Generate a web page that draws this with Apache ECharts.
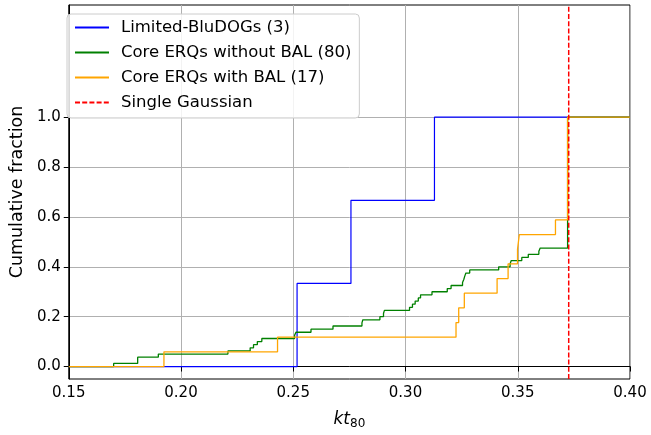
<!DOCTYPE html>
<html><head><meta charset="utf-8">
<script src="https://cdn.jsdelivr.net/npm/echarts@6/dist/echarts.min.js"></script>
<style>html,body{margin:0;padding:0;background:#fff}#c{width:651px;height:435px}</style>
</head><body><div id="c"></div><script>
// ---- data ----
const xTicks = [0.15, 0.20, 0.25, 0.30, 0.35, 0.40];
const yTicks = [0.0, 0.2, 0.4, 0.6, 0.8, 1.0];

const blueName = 'Limited-BluDOGs (3)';
const blueX = [0.15, 0.2517, 0.2757, 0.3129, 0.40];
const blueY = [0, 0.3333, 0.6667, 1.0, 1.0];

const greenName = 'Core ERQs without BAL (80)';
const greenX = [0.15, 0.1700, 0.1807, 0.1899, 0.2209, 0.2308, 0.2323, 0.2340, 0.2360, 0.2506, 0.2512,
  0.2579, 0.2677, 0.2806, 0.2810, 0.2886, 0.2902, 0.2906, 0.3018, 0.3031, 0.3043, 0.3057, 0.3067,
  0.3118, 0.3186, 0.3203, 0.3254, 0.3260, 0.3264, 0.3269, 0.3286, 0.3415, 0.3466, 0.3471, 0.3518,
  0.3547, 0.3594, 0.3600, 0.3722, 0.40];
const greenY = [0, 0.0125, 0.0375, 0.05, 0.0625, 0.075, 0.0875, 0.1, 0.1125, 0.125, 0.1375,
  0.15, 0.1625, 0.175, 0.1875, 0.2, 0.2125, 0.225, 0.2375, 0.25, 0.2625, 0.275, 0.2875,
  0.3, 0.3125, 0.325, 0.3375, 0.35, 0.3625, 0.375, 0.3875, 0.4, 0.4125, 0.425, 0.4375,
  0.45, 0.4625, 0.475, 1.0, 1.0];

const orangeName = 'Core ERQs with BAL (17)';
const orangeX = [0.15, 0.1924, 0.2430, 0.3225, 0.3237, 0.3262, 0.3408, 0.3457, 0.3499, 0.3507, 0.3668, 0.3722, 0.40];
const orangeY = [0, 0.0588, 0.1176, 0.1765, 0.2353, 0.2941, 0.3529, 0.4118, 0.4706, 0.5294, 0.5882, 1.0, 1.0];

const gaussName = 'Single Gaussian';
const gaussX = [0.3727, 0.3727];
const gaussY = [-0.05, 1.45];

// ---- chart ----
const pair = (xs, ys) => xs.map((x, i) => [x, ys[i]]);
const FONT = 'DejaVu Sans';
const chart = echarts.init(document.getElementById('c'), null, {renderer: 'canvas'});
chart.setOption({
  animation: false,
  backgroundColor: '#ffffff',
  textStyle: {fontFamily: FONT},
  grid: {left: 60, right: 21, top: 5, bottom: 48, show: true, borderColor: '#000', borderWidth: 1, backgroundColor: 'transparent'},
  legend: {
    orient: 'vertical', left: 67, top: 14,
    data: [blueName, greenName, orangeName, gaussName],
    backgroundColor: 'rgba(255,255,255,0.85)', borderColor: '#cccccc', borderWidth: 1, borderRadius: 4,
    padding: [5, 8, 7, 7], itemWidth: 34, itemHeight: 14, itemGap: 8,
    itemStyle: {opacity: 0},
    textStyle: {fontFamily: FONT, fontSize: 16.5, color: '#000', padding: [0, 0, 0, 7]}
  },
  xAxis: {
    type: 'value', min: 0.15, max: 0.40, interval: 0.05,
    name: '{i|kt}{s|80}', nameLocation: 'middle', nameGap: 30,
    nameTextStyle: {rich: {
      i: {fontFamily: FONT, fontStyle: 'italic', fontSize: 17, color: '#000'},
      s: {fontFamily: FONT, fontSize: 12, color: '#000', padding: [9, 0, 0, 0]}
    }},
    axisLine: {show: true, lineStyle: {color: '#000', width: 1}},
    axisTick: {show: true, inside: false, length: 5, lineStyle: {color: '#000'}},
    axisLabel: {fontFamily: FONT, fontSize: 15, color: '#000', margin: 7, formatter: v => v.toFixed(2)},
    splitLine: {show: true, lineStyle: {color: '#b0b0b0', width: 1}}
  },
  yAxis: {
    type: 'value', min: -0.05, max: 1.45, interval: 0.05,
    name: 'Cumulative fraction', nameLocation: 'middle', nameGap: 42, nameRotate: 90,
    nameTextStyle: {fontFamily: FONT, fontSize: 17.5, color: '#000'},
    axisLine: {show: true, lineStyle: {color: '#000', width: 1}},
    axisTick: {show: true, inside: false, length: 5, lineStyle: {color: '#000'}, customValues: yTicks},
    axisLabel: {fontFamily: FONT, fontSize: 15, color: '#000', margin: 8, customValues: yTicks, formatter: v => v.toFixed(1)},
    splitLine: {show: true, lineStyle: {color: '#b0b0b0', width: 1}}
  },
  series: [
    {name: blueName, type: 'line', step: 'end', data: pair(blueX, blueY), symbol: 'none', z: 3,
      lineStyle: {color: '#0000ff', width: 1.2}, itemStyle: {color: '#0000ff'}},
    {name: greenName, type: 'line', step: 'end', data: pair(greenX, greenY), symbol: 'none', z: 4,
      lineStyle: {color: '#008000', width: 1.3}, itemStyle: {color: '#008000'}},
    {name: orangeName, type: 'line', step: 'end', data: pair(orangeX, orangeY), symbol: 'none', z: 5,
      lineStyle: {color: '#ffa500', width: 1.3}, itemStyle: {color: '#ffa500'}},
    {name: gaussName, type: 'line', data: pair(gaussX, gaussY), symbol: 'none', z: 6,
      lineStyle: {color: '#ff0000', width: 1.5, type: [5, 2.2]}, itemStyle: {color: '#ff0000'}}
  ]
});
</script></body></html>
